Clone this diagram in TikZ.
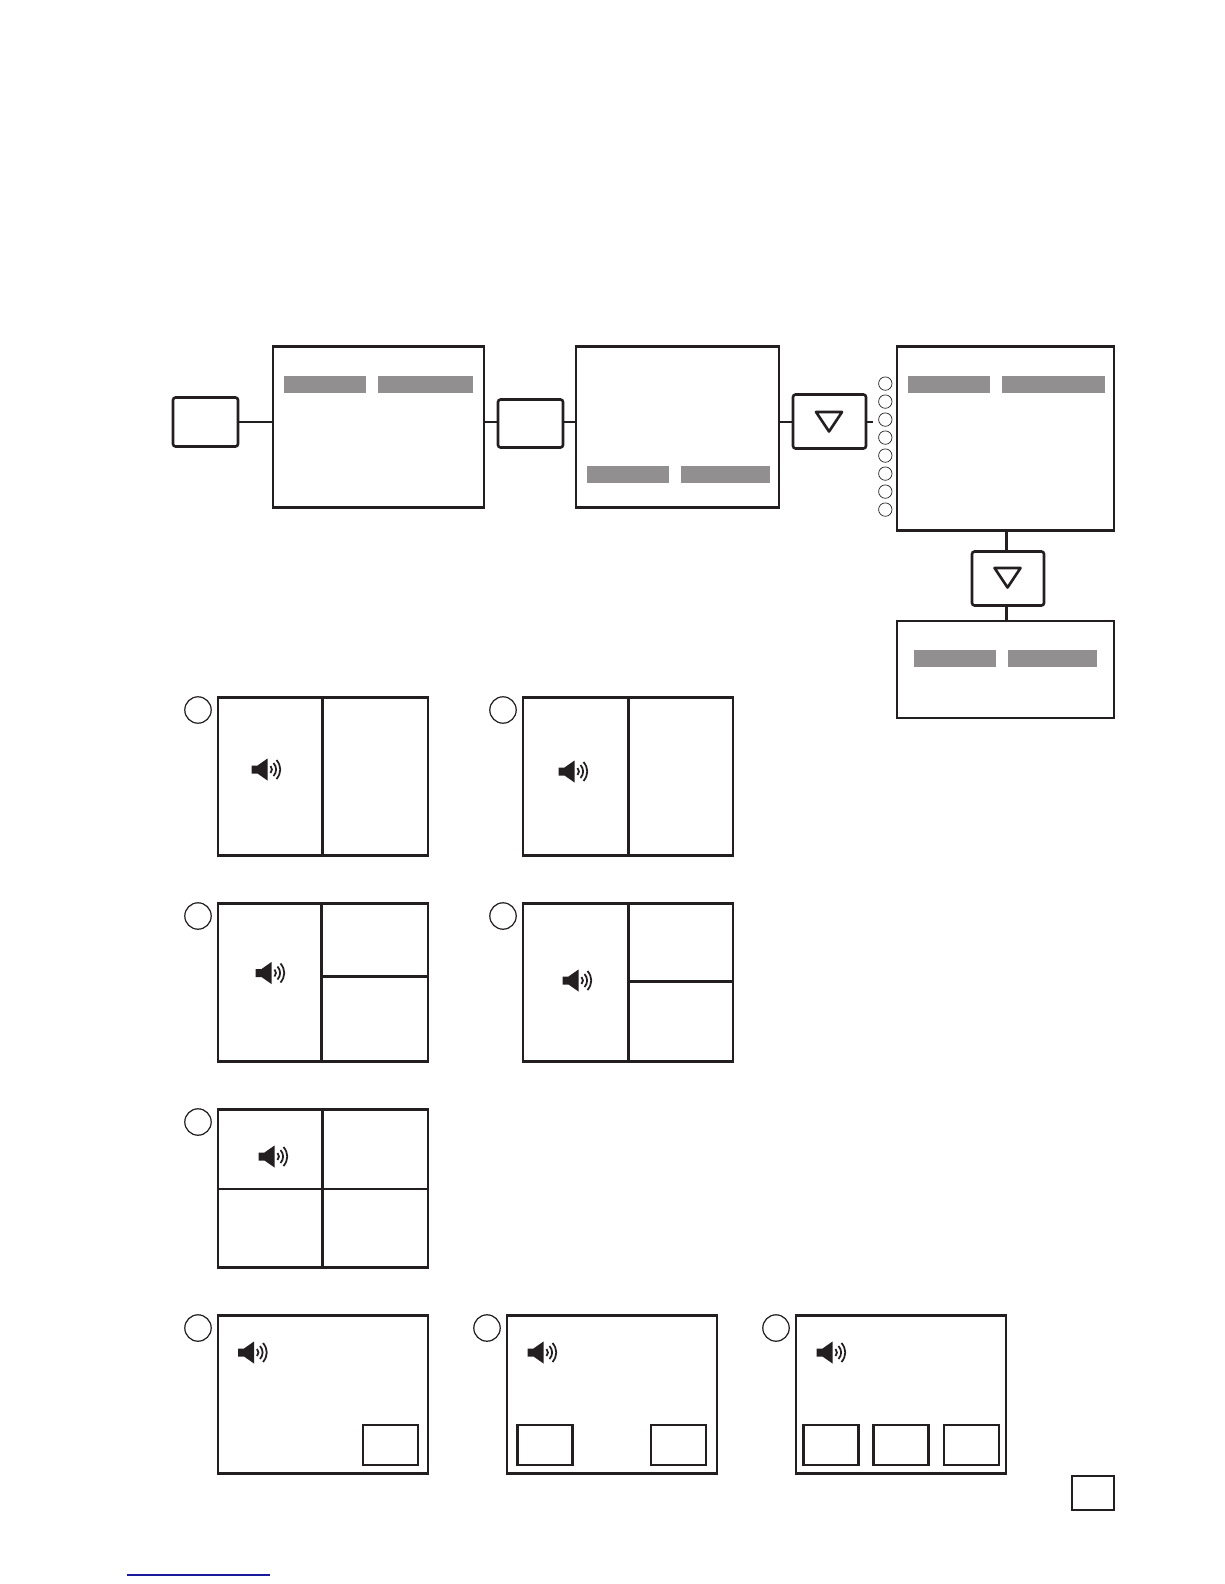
\documentclass[tikz,border=0pt]{standalone}
\usepackage{xcolor}
\usepackage{tikz}
\usetikzlibrary{calc}

\definecolor{barGrey}{HTML}{918F8F}
\definecolor{inkBlack}{HTML}{231F20}
\definecolor{linkBlue}{HTML}{1A1A9C}

\def\px{0.02cm}

\tikzset{
	screenbox/.style={draw=inkBlack, line width=1.6pt, minimum width=#1*\px, inner sep=0pt, outer sep=0pt},
	roundbox/.style={draw=inkBlack, line width=1.5pt, rounded corners=1.5pt, inner sep=0pt, outer sep=0pt},
	greybar/.style={fill=barGrey, minimum height=17*\px, minimum width=#1*\px, inner sep=0pt, outer sep=0pt},
	wire/.style={draw=inkBlack, line width=1.1pt},
	stem/.style={draw=inkBlack, line width=1.7pt},
	pane/.style={draw=inkBlack, line width=1.4pt},
	inset/.style={draw=inkBlack, line width=1.2pt, minimum width=55*\px, minimum height=40*\px, inner sep=0pt, outer sep=0pt},
	port/.style={draw=inkBlack, line width=0.4pt, circle, minimum size=13.4*\px, inner sep=0pt},
	badge/.style={draw=inkBlack, line width=0.7pt, circle, minimum size=26.4*\px, inner sep=0pt},
	downmark/.pic={
		\draw[inkBlack, line width=1.5pt, line join=round] (-13,-10) -- (13,-10) -- (0,9.5) -- cycle;
	},
	speaker/.pic={
		\fill[inkBlack] (-15,-4) -- (-9,-4) -- (1,-11) -- (1,11) -- (-9,4) -- (-15,4) -- cycle;
		\draw[inkBlack, line width=1pt] (4,-3.5) .. controls (6,-1.5) and (6,1.5) .. (4,3.5);
		\draw[inkBlack, line width=1pt] (7,-6.5) .. controls (10.5,-2.5) and (10.5,2.5) .. (7,6.5);
		\draw[inkBlack, line width=1pt] (10,-9.5) .. controls (15,-3.5) and (15,3.5) .. (10,9.5);
	}
}

\begin{document}
\begin{tikzpicture}[x=\px, y=-\px]
	% ---- Page ----
	\useasboundingbox[fill=white] (0,0) rectangle (1224,1584);
	
	% ---- Top row of boxes ----
	\node[roundbox, minimum width=65*\px, minimum height=49*\px] (keyA) at (205.5,422) {};
	\node[screenbox=211, minimum height=160.5*\px] (menuA) at (378.5,427) {};
	\node[roundbox, minimum width=65*\px, minimum height=48*\px] (keyB) at (530.5,423.5) {};
	\node[screenbox=203, minimum height=160.5*\px] (menuB) at (677.5,427) {};
	\node[roundbox, minimum width=73*\px, minimum height=54*\px] (keyC) at (829.5,421.5) {};
	\node[screenbox=217, minimum height=183.5*\px] (menuC) at (1005.5,438.5) {};
	\node[roundbox, minimum width=72*\px, minimum height=54*\px] (keyD) at (1008,578.5) {};
	\node[screenbox=217, minimum height=97*\px] (menuD) at (1005.5,669.5) {};
	
	% ---- Grey bars ----
	\node[greybar=82] (barA) at (325,384.5) {};
	\node[greybar=95] (barB) at (425.5,384.5) {};
	\node[greybar=82] (barC) at (628,474.5) {};
	\node[greybar=89] (barD) at (725.5,474.5) {};
	\node[greybar=82] (barE) at (949,384.5) {};
	\node[greybar=103] (barF) at (1053.5,384.5) {};
	\node[greybar=82] (barG) at (955,658.5) {};
	\node[greybar=89] (barH) at (1052.5,658.5) {};
	
	% ---- Triangles ----
	\pic at (829,422) {downmark};
	\pic at (1007.5,578) {downmark};
	
	% ---- Ports beside the third menu ----
	\foreach \i in {0,...,7} {
		\node[port] (port\i) at (885.3,383.6+18*\i) {};
	}
	
	% ---- Connectors ----
	\coordinate (stub) at (873,421.7);
	\draw[wire] (menuA.west |- 0,421.7) -- (keyA.east |- 0,421.7);
	\draw[wire] (menuA.east |- 0,421.7) -- (keyB.west |- 0,421.7);
	\draw[wire] (keyB.east |- 0,421.7) -- (menuB.west |- 0,421.7);
	\draw[wire] (menuB.east |- 0,421.7) -- (keyC.west |- 0,421.7);
	\draw[wire] (keyC.east |- stub) -- (stub);
	\draw[stem] (1006.3,0 |- menuC.south) -- (1006.3,0 |- keyD.north);
	\draw[stem] (1006.3,0 |- keyD.south) -- (1006.3,0 |- menuD.north);
	
	% ---- Numbered views: name/left/top ----
	\foreach \v/\l/\t in {viewA/218/697, viewB/523/697, viewC/218/903, viewD/523/903, viewE/218/1109, viewF/218/1315, viewG/507/1315, viewH/796/1315} {
		\node[screenbox=210, minimum height=158.5*\px] (\v) at (\l+105,\t+79.5) {};
		\node[badge] (\v badge) at (\l-20,\t+13) {};
	}
	
	% ---- Splits inside the views ----
	\draw[pane] (322.7,0 |- viewA.north) -- (322.7,0 |- viewA.south);
	\draw[pane] (628.6,0 |- viewB.north) -- (628.6,0 |- viewB.south);
	\draw[pane] (321.3,0 |- viewC.north) -- (321.3,0 |- viewC.south);
	\draw[pane] (321.3,976.6 -| viewC.east) -- (321.3,976.6);
	\draw[pane] (628.6,0 |- viewD.north) -- (628.6,0 |- viewD.south);
	\draw[pane] (628.6,981.6 -| viewD.east) -- (628.6,981.6);
	\draw[pane] (322.7,0 |- viewE.north) -- (322.7,0 |- viewE.south);
	\draw[pane] (viewE.west |- 0,1189) -- (viewE.east |- 0,1189);
	
	% ---- Speakers ----
	\foreach \x/\y in {266.5/769.5, 573.5/771.5, 270.5/973, 577.5/980.5, 273.5/1156.5, 253/1352.5, 542.5/1352.5, 831.5/1352.5} {
		\pic at (\x,\y) {speaker};
	}
	
	% ---- Insets: name/centre x ----
	\foreach \n/\x in {insetA/390.5, insetB/545, insetC/678.5, insetD/831, insetE/901, insetF/971.5} {
		\node[inset] (\n) at (\x,1445) {};
	}
	
	% ---- Page corner box and link line ----
	\node[draw=inkBlack, line width=1.6pt, minimum width=42*\px, minimum height=34*\px, inner sep=0pt, outer sep=0pt] (pageBox) at (1093,1493) {};
	\draw[linkBlue, line width=0.6pt] (127,1575) -- (270,1575);
\end{tikzpicture}
\end{document}
